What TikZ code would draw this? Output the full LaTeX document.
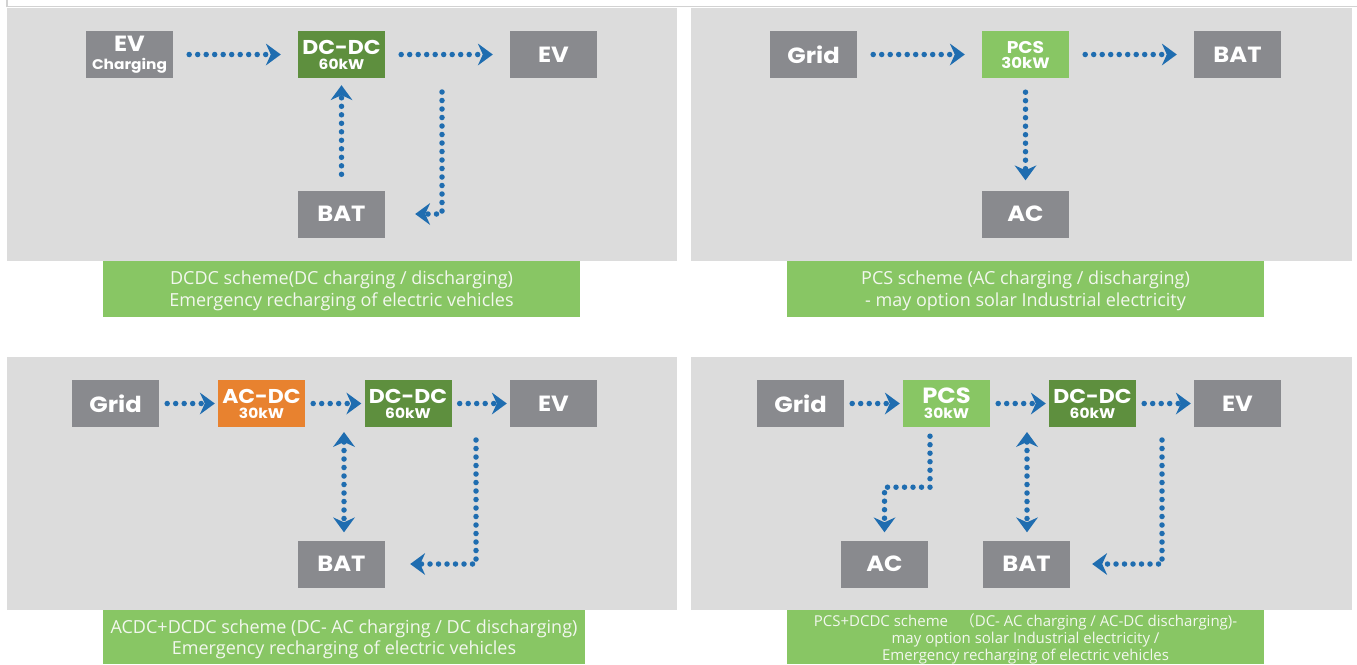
\documentclass[tikz,border=0pt]{standalone}
\usepackage{fontspec}
\usetikzlibrary{arrows.meta,calc}
\usetikzlibrary{positioning}
\newfontfamily\boxfont{Poppins}[FakeStretch=1.1]
\newfontfamily\capfont{Open Sans}
\newfontfamily\cjkfont{Noto Sans CJK SC}

\definecolor{panelgray}{HTML}{DCDCDC}
\definecolor{linegray}{HTML}{D2D2D2}
\definecolor{boxgray}{HTML}{898A8E}
\definecolor{darkgreen}{HTML}{5E8F3E}
\definecolor{lightgreen}{HTML}{88C664}
\definecolor{orangebox}{HTML}{E8822F}
\definecolor{flowblue}{HTML}{1F6DB0}
\definecolor{captext}{HTML}{F2F7EE}

% two-line unit label: size, name, size, rating
\newcommand{\unitlabel}[4]{{\fontsize{#1}{#1}\selectfont #2}\\[-7pt]{\fontsize{#3}{#3}\selectfont #4}}

\tikzset{
  unit/.style={fill=boxgray, text=white, minimum width=87pt, minimum height=47pt,
    inner sep=0pt, align=center, font=\boxfont\bfseries\fontsize{22}{22}\selectfont},
  dcdcbox/.style={unit, fill=darkgreen},
  pcsbox/.style={unit, fill=lightgreen},
  acdcbox/.style={unit, fill=orangebox},
  caption/.style={fill=lightgreen, text=captext, inner sep=0pt, align=center, text depth=0pt,
    font=\capfont\fontsize{18}{22}\selectfont},
  tip/.style={-{Stealth[length=15pt,width=22pt,inset=5pt,line width=0pt]}},
  flow/.style={draw=flowblue, line width=5.5pt, line cap=round, dash pattern=on 0pt off 8.5pt, tip},
  flowboth/.style={flow, {Stealth[length=15pt,width=22pt,inset=5pt,line width=0pt]}-{Stealth[length=15pt,width=22pt,inset=5pt,line width=0pt]}},
  longflow/.style={flow, shorten <=16pt, shorten >=17pt},
  shortflow/.style={flow, shorten <=8pt, shorten >=3pt},
}

\begin{document}
\begin{tikzpicture}[x=1pt, y=-1pt]
  \useasboundingbox (0,0) rectangle (1357,664);

  % Frame and panels
  \draw[linegray, line width=1.5pt] (7,0) -- (7,6.5) -- (1357,6.5);
  \fill[panelgray] (7,7.5) rectangle (677,261);
  \fill[panelgray] (691,7.5) rectangle (1352,261);
  \fill[panelgray] (7,357) rectangle (677,610);
  \fill[panelgray] (691,357) rectangle (1352,610);

  % DCDC scheme
  \node[unit] (evc1) at (129.5,54.5) {EV\\[-4pt]{\fontsize{14}{14}\selectfont Charging}};
  \node[dcdcbox] (dcdc1) at (341.5,54.5) {\unitlabel{20}{DC-DC}{14}{60kW}};
  \node[unit] (ev1) at (553.5,54.5) {EV};
  \node[unit] (bat1) at (341.5,214) {BAT};
  \coordinate (tap1) at (442,78);
  \draw[longflow] (evc1) -- (dcdc1);
  \draw[longflow] (dcdc1) -- (ev1);
  \draw[flow, shorten <=16pt, shorten >=7pt] (bat1.north) -- (dcdc1.south);
  \draw[flow, shorten <=14pt, shorten >=30pt] (tap1) |- (bat1.east);

  % PCS scheme
  \node[unit] (grid2) at (813.5,54.5) {Grid};
  \node[pcsbox] (pcs2) at (1025.5,54.5) {\unitlabel{17}{PCS}{15}{30kW}};
  \node[unit] (bat2) at (1237.5,54.5) {BAT};
  \node[unit] (ac2) at (1025.5,214) {AC};
  \draw[longflow] (grid2) -- (pcs2);
  \draw[longflow] (pcs2) -- (bat2);
  \draw[flow, shorten <=14pt, shorten >=10pt] (pcs2.south) -- (ac2.north);

  % ACDC+DCDC scheme
  \node[unit] (grid3) at (115.5,403.5) {Grid};
  \node[acdcbox] (acdc3) at (261.5,403.5) {\unitlabel{20}{AC-DC}{14}{30kW}};
  \node[dcdcbox] (dcdc3) at (408,403.5) {\unitlabel{20}{DC-DC}{14}{60kW}};
  \node[unit] (ev3) at (553.5,403.5) {EV};
  \node[unit] (bat3) at (341.5,564) {BAT};
  \coordinate (bus3) at (344,427);
  \coordinate (tap3) at (476,427);
  \draw[shortflow] (grid3) -- (acdc3);
  \draw[shortflow] (acdc3) -- (dcdc3);
  \draw[shortflow] (dcdc3) -- (ev3);
  \draw[flowboth, shorten <=5pt, shorten >=8pt] (bus3) -- (bus3 |- bat3.north);
  \draw[flow, shorten <=13pt, shorten >=25pt] (tap3) |- (bat3.east);

  % PCS+DCDC scheme
  \node[unit] (grid4) at (800.5,403.5) {Grid};
  \node[pcsbox] (pcs4) at (946.5,403.5) {\unitlabel{22}{PCS}{14}{30kW}};
  \node[dcdcbox] (dcdc4) at (1092.5,403.5) {\unitlabel{20}{DC-DC}{14}{60kW}};
  \node[unit] (ev4) at (1237.5,403.5) {EV};
  \node[unit] (ac4) at (884.5,564) {AC};
  \node[unit] (bat4) at (1026.5,564) {BAT};
  \coordinate (bus4) at (1027,427);
  \coordinate (tap4) at (1162,427);
  \draw[shortflow] (grid4) -- (pcs4);
  \draw[shortflow] (pcs4) -- (dcdc4);
  \draw[shortflow] (dcdc4) -- (ev4);
  \draw[flow, shorten <=9pt, shorten >=8pt] ([xshift=-16.5pt]pcs4.south) -- ++(0,60) -| (ac4.north);
  \draw[flowboth, shorten <=5pt, shorten >=8pt] (bus4) -- (bus4 |- bat4.north);
  \draw[flow, shorten <=13pt, shorten >=22pt] (tap4) |- (bat4.east);

  % Captions
  \node[caption, minimum width=477pt, minimum height=56pt] (cap1) at (341.5,289)
    {DCDC scheme(DC charging / discharging)\\Emergency recharging of electric vehicles};
  \node[caption, minimum width=477pt, minimum height=56pt] (cap2) at (1025.5,289)
    {PCS scheme (AC charging / discharging)\\- may option solar Industrial electricity};
  \node[caption, minimum width=482pt, minimum height=54pt, font=\capfont\fontsize{18}{21}\selectfont] (cap3) at (344,637)
    {ACDC+DCDC scheme (DC- AC charging / DC discharging)\\Emergency recharging of electric vehicles};
  \node[caption, minimum width=477pt, minimum height=54pt, font=\capfont\fontsize{15}{17}\selectfont] (cap4) at (1025.5,637)
    {PCS+DCDC scheme \ \ {\cjkfont （}DC- AC charging / AC-DC discharging)-\\may option solar Industrial electricity /\\Emergency recharging of electric vehicles};
\end{tikzpicture}
\end{document}
